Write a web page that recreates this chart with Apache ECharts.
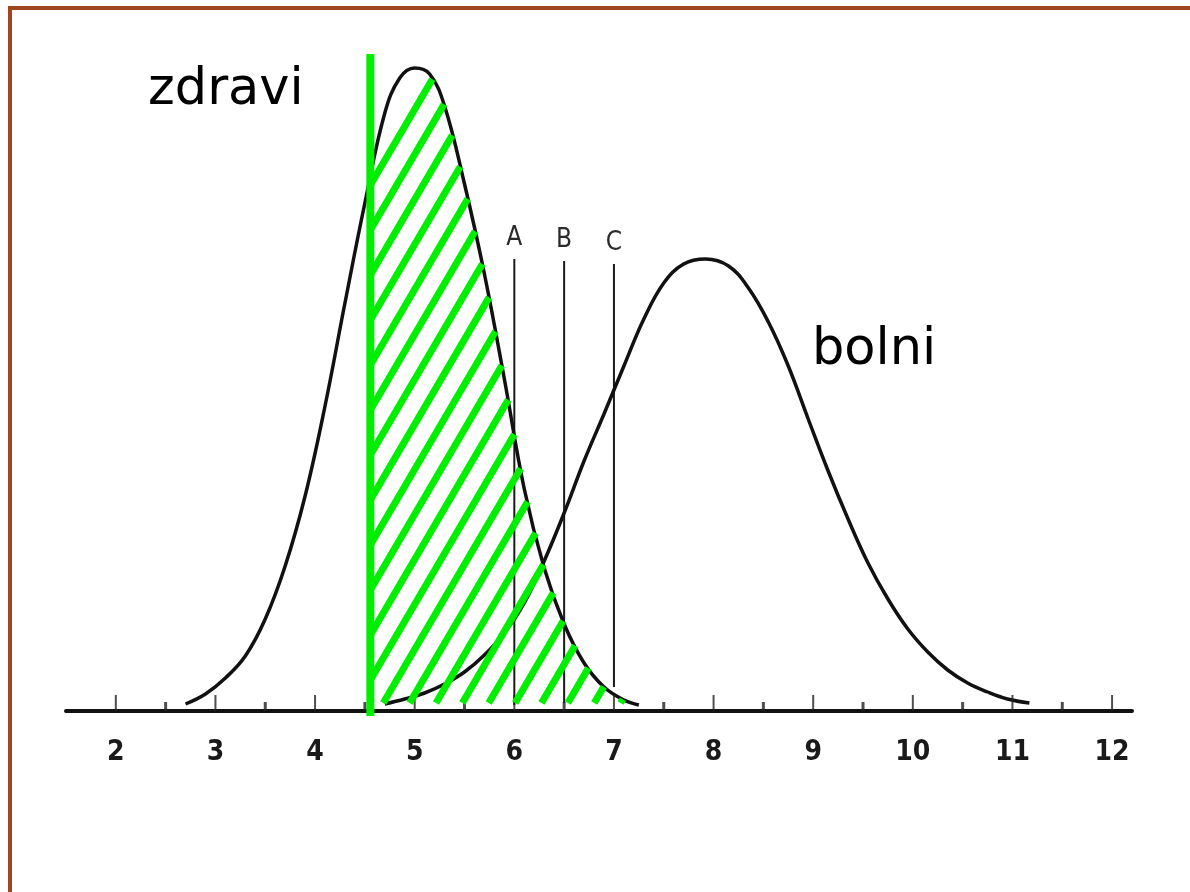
<!DOCTYPE html>
<html>
<head>
<meta charset="UTF-8">
<title>zdravi / bolni</title>
<script src="https://cdn.jsdelivr.net/npm/echarts@6/dist/echarts.min.js"></script>
<style>
	html, body { margin: 0; padding: 0; background: #fff; overflow: hidden; }
	#frame {
		position: absolute; left: 8px; top: 6px; width: 1200px; height: 900px;
		border-top: 4px solid #a2461f; border-left: 4px solid #a2461f;
	}
	#chart { position: absolute; left: 0; top: 0; width: 1190px; height: 892px; }
</style>
</head>
<body>
<div id="frame"></div>
<div id="chart"></div>
<script>
	// curve heights (arbitrary units, baseline = 0)
	var zdraviX = [2.7, 2.9, 3.1, 3.3, 3.5, 3.7, 3.9, 4.1, 4.3, 4.5, 4.7, 4.85, 5.0,
		5.15, 5.3, 5.5, 5.7, 5.9, 6.1, 6.3, 6.5, 6.7, 6.9, 7.1, 7.25];
	var zdraviY = [7, 17, 33, 55, 92, 145, 215, 305, 408, 508, 598, 633, 643,
		637, 605, 527, 437, 332, 222, 143, 87, 48, 24, 11, 6];
	var bolniX = [4.7, 4.9, 5.1, 5.3, 5.5, 5.7, 5.9, 6.1, 6.3, 6.5, 6.7, 6.9, 7.1, 7.3, 7.5, 7.7, 7.92,
		8.15, 8.35, 8.55, 8.75, 8.95, 9.15, 9.35, 9.55, 9.75, 9.95, 10.15, 10.35, 10.55, 10.75, 10.95, 11.17];
	var bolniY = [7, 12, 18, 27, 39, 56, 78, 108, 150, 198, 250, 297, 345, 392, 428, 447, 452,
		445, 423, 389, 345, 292, 240, 192, 148, 112, 82, 59, 41, 28, 19, 12, 8];

	// cut-off lines A, B, C
	var cutNames = ['A', 'B', 'C'];
	var cutX = [6, 6.5, 7];
	var cutTop = [452, 450, 447];
	var cutBottom = [6, 8, 24];

	// green criterion line
	var critX = 4.555;
	var critTop = 657;
	var critBottom = -5;

	var majorTicks = [2, 3, 4, 5, 6, 7, 8, 9, 10, 11, 12];
	var minorTicks = [2.5, 3.5, 4.5, 5.5, 6.5, 7.5, 8.5, 9.5, 10.5, 11.5];

	var green = '#00ee00';
	var hatchTop = 526, hatchStep = 45, hatchSlope = 170, hatchBase = 8;

	function pairs(xs, ys) {
		var out = [];
		for (var i = 0; i < xs.length; i++) out.push([xs[i], ys[i]]);
		return out;
	}
	function zdraviAt(x) {
		if (x <= zdraviX[0] || x >= zdraviX[zdraviX.length - 1]) return 0;
		for (var i = 1; i < zdraviX.length; i++) {
			if (x <= zdraviX[i]) {
				var t = (x - zdraviX[i - 1]) / (zdraviX[i] - zdraviX[i - 1]);
				return zdraviY[i - 1] + t * (zdraviY[i] - zdraviY[i - 1]);
			}
		}
		return 0;
	}

	// diagonal hatching clipped to the area under "zdravi", right of the criterion
	function hatchItem(params, api) {
		var kids = [];
		for (var k = 0; k < 40; k++) {
			var y0 = hatchTop - k * hatchStep;
			var xs = critX, hs = y0;
			if (y0 < hatchBase) {
				xs = critX + (hatchBase - y0) / hatchSlope;
				hs = hatchBase;
			}
			if (zdraviAt(xs) <= hs + 2) {
				if (y0 < hatchBase) break;
				continue;
			}
			var xe = xs, he = hs;
			for (var x = xs + 0.004; x < 8; x += 0.002) {
				var h = hs + (x - xs) * hatchSlope;
				if (h >= zdraviAt(x)) { xe = x; he = h; break; }
			}
			var p1 = api.coord([xs, hs]), p2 = api.coord([xe, he]);
			kids.push({
				type: 'line',
				shape: { x1: p1[0], y1: p1[1], x2: p2[0], y2: p2[1] },
				style: { stroke: green, lineWidth: 7, lineCap: 'butt' }
			});
		}
		return { type: 'group', children: kids };
	}

	function cutItem(params, api) {
		var x = api.value(0);
		var top = api.coord([x, api.value(1)]);
		var bot = api.coord([x, api.value(2)]);
		return {
			type: 'group',
			children: [{
				type: 'line',
				shape: { x1: top[0], y1: top[1], x2: bot[0], y2: bot[1] },
				style: { stroke: '#1a1a1a', lineWidth: 2 }
			}, {
				type: 'text',
				x: top[0], y: top[1] - 8,
				style: {
					text: cutNames[params.dataIndex],
					font: '26px "DejaVu Sans Condensed", "Liberation Sans"',
					fill: '#2a2a2a', align: 'center', verticalAlign: 'bottom'
				}
			}]
		};
	}

	var cutData = [];
	for (var i = 0; i < cutX.length; i++) cutData.push([cutX[i], cutTop[i], cutBottom[i]]);

	var chart = echarts.init(document.getElementById('chart'));
	chart.setOption({
		animation: false,
		grid: { left: 66, right: 58, top: 11, bottom: 171 },
		xAxis: {
			type: 'value', min: 1.5, max: 12.2, interval: 0.5,
			axisLine: { onZero: true, lineStyle: { color: '#111', width: 4 } },
			axisTick: { show: false },
			splitLine: { show: false },
			axisLabel: {
				margin: 18,
				fontSize: 28, fontFamily: '"DejaVu Sans Condensed", "Liberation Sans"', fontWeight: 'bold', color: '#1a1a1a',
				formatter: function (v) { return (v % 1 === 0 && v >= 2 && v <= 12) ? String(v) : ''; }
			}
		},
		yAxis: { type: 'value', min: -10, max: 700, show: false },
		graphic: [
			{ type: 'text', left: 148, top: 65, style: { text: 'zdravi', font: '51px "DejaVu Sans"', fill: '#000' } },
			{ type: 'text', left: 812, top: 325, style: { text: 'bolni', font: '51px "DejaVu Sans"', fill: '#000' } }
		],
		series: [{
			name: 'zdravi', type: 'line', data: pairs(zdraviX, zdraviY),
			smooth: 0.4, showSymbol: false, silent: true, z: 2,
			lineStyle: { color: '#111', width: 3.5 }
		}, {
			name: 'bolni', type: 'line', data: pairs(bolniX, bolniY),
			smooth: 0.4, showSymbol: false, silent: true, z: 2,
			lineStyle: { color: '#111', width: 3.5 }
		}, {
			name: 'cutoffs', type: 'custom', data: cutData, renderItem: cutItem,
			encode: { x: 0, y: 1 }, silent: true, z: 2
		}, {
			name: 'hatch', type: 'custom', data: [[critX, 0]], renderItem: hatchItem,
			encode: { x: 0, y: 1 }, silent: true, z: 4
		}, {
			name: 'criterion', type: 'line', data: [[critX, critBottom], [critX, critTop]],
			showSymbol: false, silent: true, z: 5,
			lineStyle: { color: green, width: 8, cap: 'butt' }
		}, {
			name: 'major', type: 'scatter', silent: true, z: 3,
			data: majorTicks.map(function (v) { return [v, 0]; }),
			symbol: 'rect', symbolSize: [2, 16], symbolOffset: [0, '-50%'],
			itemStyle: { color: '#222' }
		}, {
			name: 'minor', type: 'scatter', silent: true, z: 3,
			data: minorTicks.map(function (v) { return [v, 0]; }),
			symbol: 'rect', symbolSize: [3, 9], symbolOffset: [0, '-50%'],
			itemStyle: { color: '#222' }
		}]
	});
</script>
</body>
</html>
